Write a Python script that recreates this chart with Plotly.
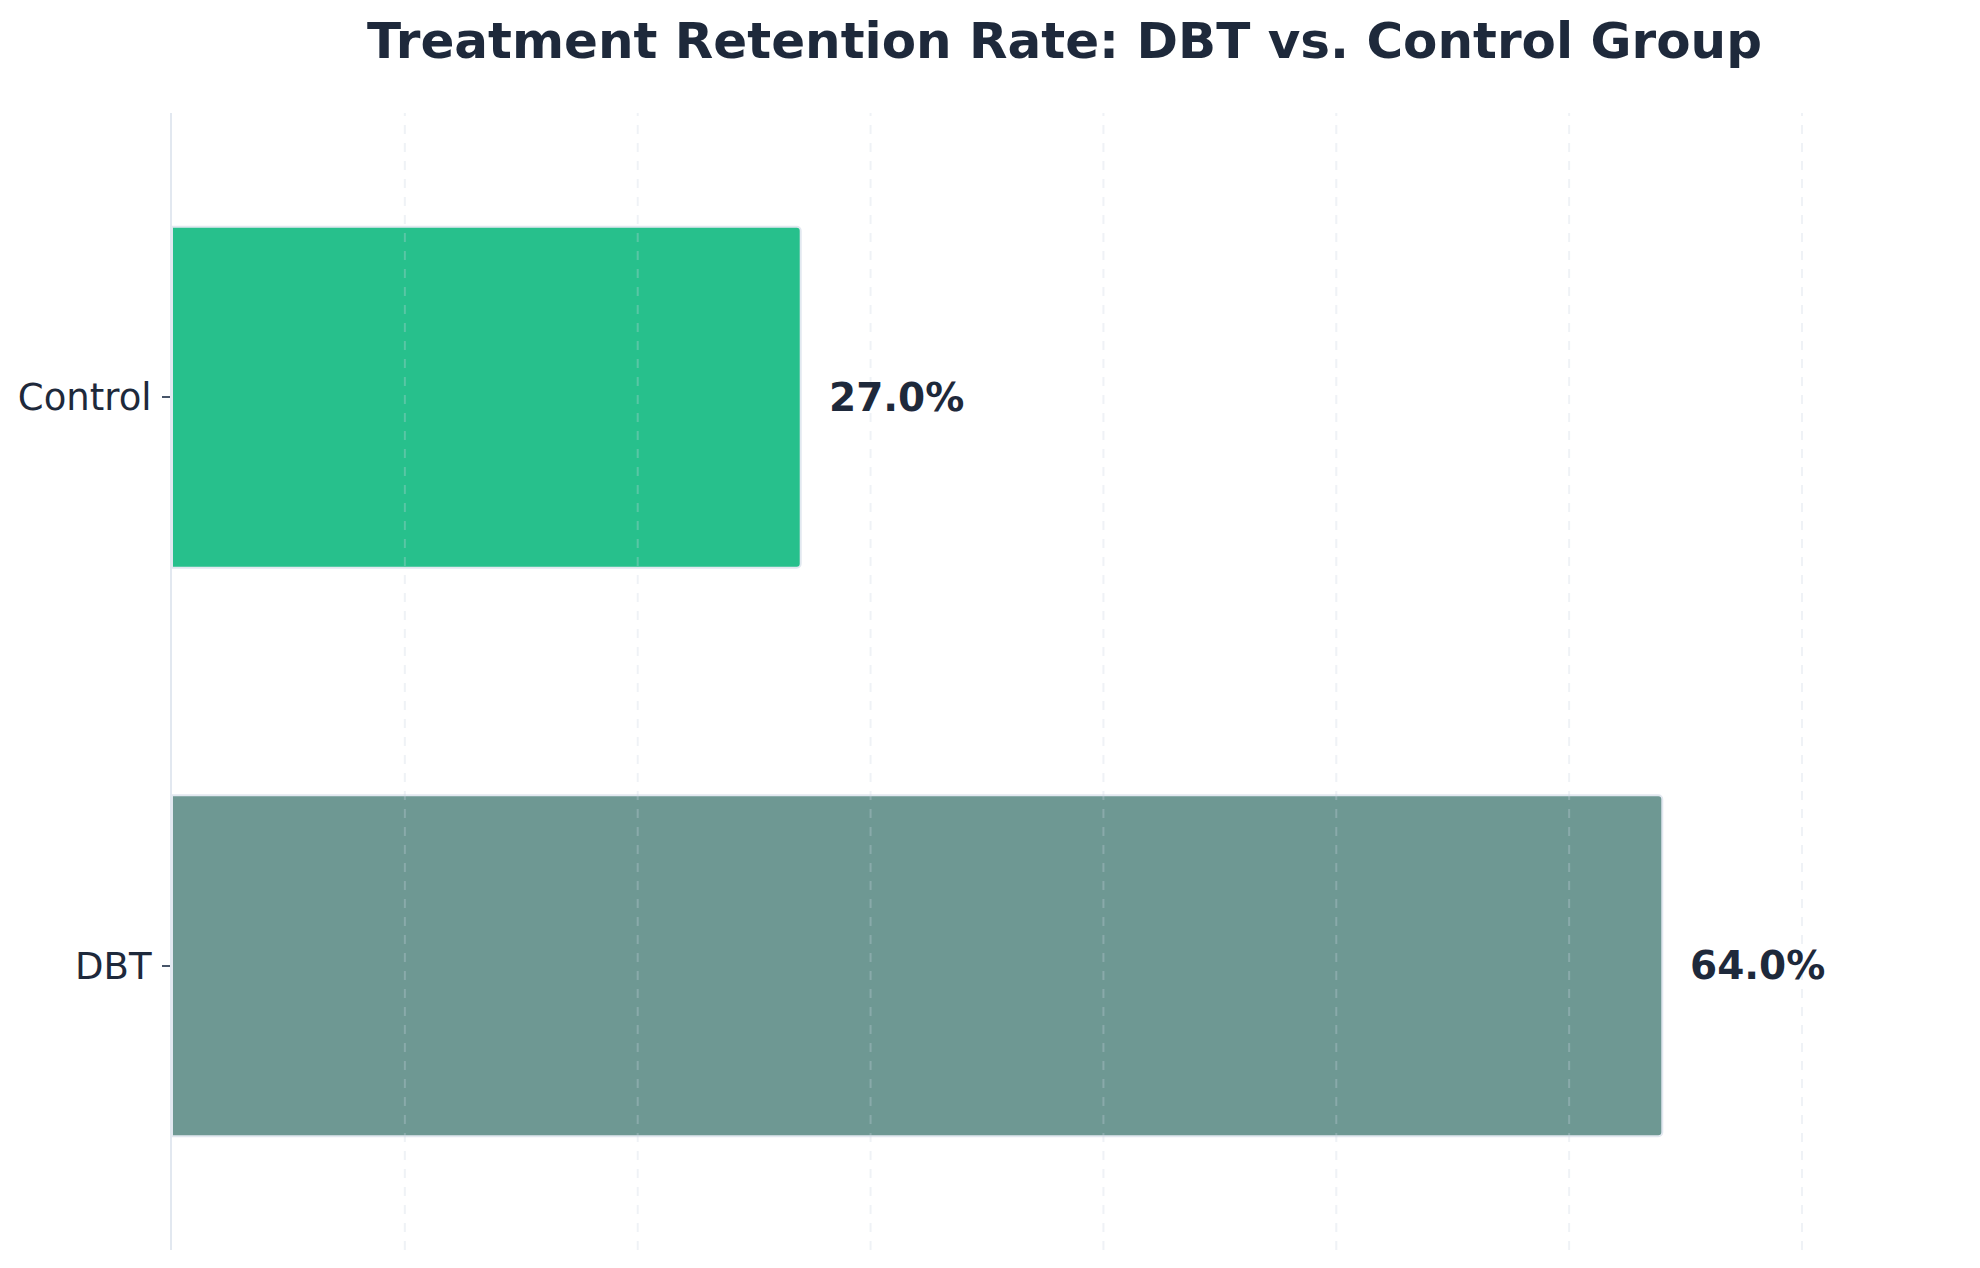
import plotly.graph_objects as go

# data
groups = ["DBT", "Control"]
retention = [64.0, 27.0]
bar_colors = ["#6e9893", "#27c08c"]
grid_ticks = [10, 20, 30, 40, 50, 60, 70]

text_color = "#1e293b"
font_family = "DejaVu Sans"

fig = go.Figure()

fig.add_trace(go.Bar(
    x=retention,
    y=groups,
    orientation="h",
    width=0.6,
    marker=dict(
        color=bar_colors,
        line=dict(color="#e2e8f0", width=2),
        cornerradius=4,
    ),
    hoverinfo="skip",
))

# value labels just past the bar ends
for g, v in zip(groups, retention):
    fig.add_annotation(
        x=v, y=g, xref="x", yref="y",
        text=f"<b>{v:.1f}%</b>",
        showarrow=False, xanchor="left", xshift=26,
        font=dict(family=font_family, size=39, color=text_color),
    )

# dashed grid drawn over the bars
for t in grid_ticks:
    fig.add_shape(
        type="line", xref="x", yref="paper",
        x0=t, x1=t, y0=0, y1=1,
        line=dict(color="rgba(203,213,225,0.3)", width=2, dash="dash"),
        layer="above",
    )

# page body adds an offset, margins compensate for it
fig.update_layout(
    width=1980,
    height=1268,
    margin=dict(l=164, r=23, t=105, b=26),
    paper_bgcolor="white",
    plot_bgcolor="white",
    showlegend=False,
    font=dict(family=font_family, color=text_color),
    title=dict(
        text="<b>Treatment Retention Rate: DBT vs. Control Group</b>",
        x=0.5336, xanchor="center",
        y=0.974, yanchor="middle",
        font=dict(family=font_family, size=50, color=text_color),
    ),
)

fig.update_xaxes(
    range=[0, 77],
    showgrid=False,
    showticklabels=False,
    ticks="",
    zeroline=False,
    showline=False,
)

fig.update_yaxes(
    range=[-0.5, 1.5],
    automargin=False,
    showgrid=False,
    zeroline=False,
    showline=True,
    linecolor="#e2e8f0",
    linewidth=2,
    ticks="outside",
    ticklen=8,
    tickwidth=1.5,
    tickcolor="#475569",
    ticklabelstandoff=3,
    tickfont=dict(family=font_family, size=37, color=text_color),
)

fig.write_html("out.html")
